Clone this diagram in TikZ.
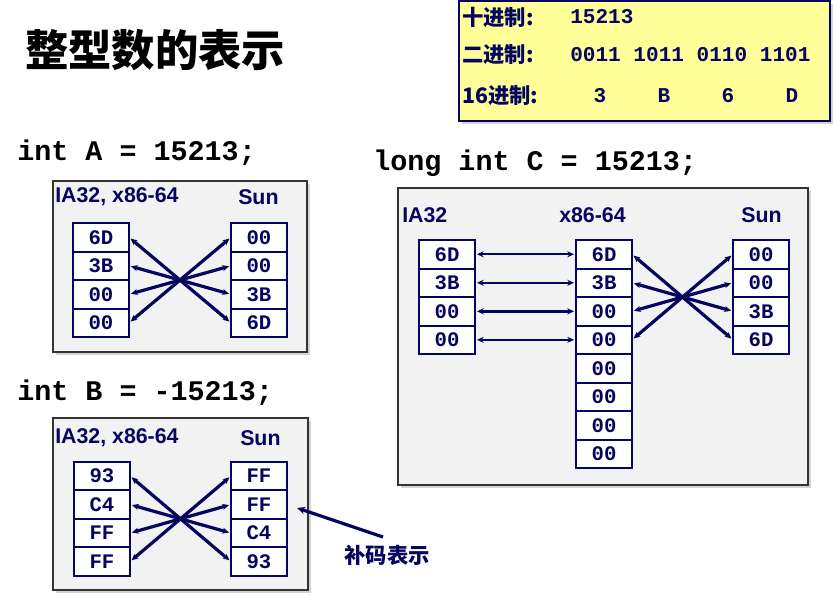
\documentclass[tikz,border=0pt]{standalone}
\usepackage{fontspec}
\setmainfont{Liberation Sans}
\setmonofont{Liberation Mono}
\newfontfamily\cjkfont{Noto Sans CJK SC}
\usetikzlibrary{positioning,shadows,arrows.meta}
\definecolor{navy}{RGB}{5,5,95}
\definecolor{paper}{RGB}{242,242,242}
\definecolor{note}{RGB}{255,255,153}
\begin{document}
\begin{tikzpicture}[
    % one unit is one pixel of the slide, y runs downwards
    x=0.75pt, y=-0.75pt,
    cell/.style={draw=navy, line width=1.5pt, fill=white, minimum width=42pt,
        minimum height=21.4pt, inner sep=0pt, outer sep=0pt, text=navy,
        font=\ttfamily\bfseries\fontsize{15.5}{15.5}\selectfont},
    link/.style={draw=navy, line width=2.4pt,
        {Stealth[length=5pt,width=4.5pt]}-{Stealth[length=5pt,width=4.5pt]},
        shorten <=1.5pt, shorten >=1.5pt},
    panel/.style={draw=black!80, fill=paper, line width=0.8pt,
        drop shadow={shadow xshift=2pt, shadow yshift=-2pt, opacity=0.35}},
    head/.style={anchor=west, inner sep=0pt, text=navy,
        font=\bfseries\fontsize{16}{16}\selectfont},
    code/.style={anchor=west, inner sep=0pt,
        font=\ttfamily\bfseries\fontsize{21.3}{21.3}\selectfont},
    tag/.style={anchor=west, inner sep=0pt, text=navy,
        font=\cjkfont\bfseries\fontsize{16}{16}\selectfont},
    val/.style={inner sep=0pt, text=navy,
        font=\ttfamily\bfseries\fontsize{15.8}{16}\selectfont}
]
    \useasboundingbox (0,0) rectangle (833,597);

    % --- Title and the yellow note ---
    \node[anchor=west, inner sep=0pt, font=\cjkfont\bfseries\fontsize{32.5}{32.5}\selectfont]
        (title) at (25,50) {整型数的表示};

    \draw[draw=navy, fill=note, line width=1.5pt,
        drop shadow={shadow xshift=2pt, shadow yshift=-2pt, opacity=0.35}]
        (459,1) rectangle (830,121);
    \node[tag] (decTag) at (462,17) {十进制:};
    \node[tag] (binTag) at (462,55) {二进制:};
    \node[tag] (hexTag) at (462,96) {16进制:};
    \node[val, anchor=west] (decVal) at (570,17) {15213};
    \node[val, anchor=west] (binVal) at (570,55) {0011 1011 0110 1101};
    \node[val] (hex3) at (600,96) {3};
    \node[val] (hexB) at (664,96) {B};
    \node[val] (hex6) at (728,96) {6};
    \node[val] (hexD) at (792,96) {D};

    % --- int A ---
    \node[code] (declA) at (17,153) {int A = 15213;};
    \draw[panel] (53,181) rectangle (307,352);
    \node[head] (headA) at (55,197) {IA32, x86-64};
    \node[head] (sunA) at (238,197) {Sun};

    \node[cell] (la1) at (101,237.25) {6D};
    \node[cell, below=0pt of la1] (la2) {3B};
    \node[cell, below=0pt of la2] (la3) {00};
    \node[cell, below=0pt of la3] (la4) {00};

    \node[cell] (ra1) at (259,237.25) {00};
    \node[cell, below=0pt of ra1] (ra2) {00};
    \node[cell, below=0pt of ra2] (ra3) {3B};
    \node[cell, below=0pt of ra3] (ra4) {6D};

    \draw[link] (la1.east) -- (ra4.west);
    \draw[link] (la2.east) -- (ra3.west);
    \draw[link] (la3.east) -- (ra2.west);
    \draw[link] (la4.east) -- (ra1.west);

    % --- int B ---
    \node[code] (declB) at (17,393) {int B = -15213;};
    \draw[panel] (53,418) rectangle (308,590);
    \node[head] (headB) at (55,438) {IA32, x86-64};
    \node[head] (sunB) at (240,438) {Sun};

    \node[cell] (lb1) at (102,476) {93};
    \node[cell, below=0pt of lb1] (lb2) {C4};
    \node[cell, below=0pt of lb2] (lb3) {FF};
    \node[cell, below=0pt of lb3] (lb4) {FF};

    \node[cell] (rb1) at (259,476) {FF};
    \node[cell, below=0pt of rb1] (rb2) {FF};
    \node[cell, below=0pt of rb2] (rb3) {C4};
    \node[cell, below=0pt of rb3] (rb4) {93};

    \draw[link] (lb1.east) -- (rb4.west);
    \draw[link] (lb2.east) -- (rb3.west);
    \draw[link] (lb3.east) -- (rb2.west);
    \draw[link] (lb4.east) -- (rb1.west);

    % two's complement note
    \node[tag, anchor=center] (twos) at (387,555) {补码表示};
    \coordinate (twosTail) at (383,537);
    \draw[draw=navy, line width=2.4pt, -{Stealth[length=6pt,width=5.5pt]}, shorten >=8pt]
        (twosTail) -- (rb2.east);

    % --- long int C ---
    \node[code] (declC) at (373,163) {long int C = 15213;};
    \draw[panel] (398,188) rectangle (808,485);
    \node[head] (headC) at (402,215) {IA32};
    \node[head] (midC) at (559,215) {x86-64};
    \node[head] (sunC) at (741,215) {Sun};

    \node[cell] (lc1) at (447,254.25) {6D};
    \node[cell, below=0pt of lc1] (lc2) {3B};
    \node[cell, below=0pt of lc2] (lc3) {00};
    \node[cell, below=0pt of lc3] (lc4) {00};

    \node[cell] (mc1) at (604,254.25) {6D};
    \node[cell, below=0pt of mc1] (mc2) {3B};
    \node[cell, below=0pt of mc2] (mc3) {00};
    \node[cell, below=0pt of mc3] (mc4) {00};
    \node[cell, below=0pt of mc4] (mc5) {00};
    \node[cell, below=0pt of mc5] (mc6) {00};
    \node[cell, below=0pt of mc6] (mc7) {00};
    \node[cell, below=0pt of mc7] (mc8) {00};

    \node[cell] (rc1) at (761,254.25) {00};
    \node[cell, below=0pt of rc1] (rc2) {00};
    \node[cell, below=0pt of rc2] (rc3) {3B};
    \node[cell, below=0pt of rc3] (rc4) {6D};

    \draw[link, line width=1.8pt] (lc1.east) -- (mc1.west);
    \draw[link, line width=1.8pt] (lc2.east) -- (mc2.west);
    \draw[link, line width=1.8pt] (lc3.east) -- (mc3.west);
    \draw[link, line width=1.8pt] (lc4.east) -- (mc4.west);

    \draw[link] (mc1.east) -- (rc4.west);
    \draw[link] (mc2.east) -- (rc3.west);
    \draw[link] (mc3.east) -- (rc2.west);
    \draw[link] (mc4.east) -- (rc1.west);
\end{tikzpicture}
\end{document}
